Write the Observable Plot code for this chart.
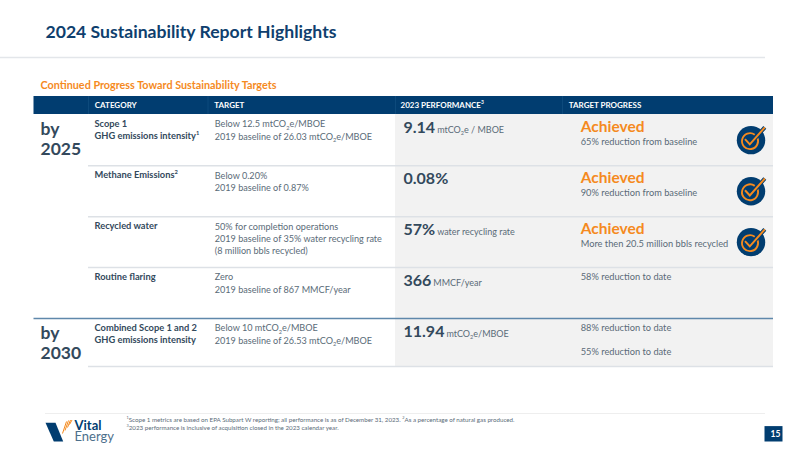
<!DOCTYPE html>
<html>
<head>
<meta charset="utf-8">
<script src="https://cdn.jsdelivr.net/npm/d3@7"></script>
<script src="https://cdn.jsdelivr.net/npm/@observablehq/plot@0.6"></script>
<style>html,body{margin:0;padding:0;background:#fff}svg{display:block}</style>
</head>
<body>
<div id="chart"></div>
<script>
const slideTitle = "2024 Sustainability Report Highlights";
const sectionTitle = "Continued Progress Toward Sustainability Targets";
const headers = ["CATEGORY", "TARGET", "TARGET PROGRESS"];
const performanceHeader = "2023 PERFORMANCE³";
const periods = ["by\n2025", "by\n2030"];
const periodRows = [0, 4];
const rows = [0, 1, 2, 3, 4];
const categories = [
  "Scope 1\nGHG emissions intensity¹",
  "Methane Emissions²",
  "Recycled water",
  "Routine flaring",
  "Combined Scope 1 and 2\nGHG emissions intensity"
];
const targets = [
  "Below 12.5 mtCO₂e/MBOE\n2019 baseline of 26.03 mtCO₂e/MBOE",
  "Below 0.20%\n2019 baseline of 0.87%",
  "50% for completion operations\n2019 baseline of 35% water recycling rate\n(8 million bbls recycled)",
  "Zero\n2019 baseline of 867 MMCF/year",
  "Below 10 mtCO₂e/MBOE\n2019 baseline of 26.53 mtCO₂e/MBOE"
];
const perfValues = ["9.14", "0.08%", "57%", "366", "11.94"];
const perfUnits = ["mtCO₂e / MBOE", "", "water recycling rate", "MMCF/year", "mtCO₂e/MBOE"];
const achievedRows = [0, 1, 2];
const achievedLabel = "Achieved";
const achievedNotes = ["65% reduction from baseline", "90% reduction from baseline", "More then 20.5 million bbls recycled"];
const openRows = [3, 4];
const openNotes = ["58% reduction to date", "88% reduction to date\n\n55% reduction to date"];
const footnote1 = "¹Scope 1 metrics are based on EPA Subpart W reporting; all performance is as of December 31, 2023. ²As a percentage of natural gas produced.";
const footnote2 = "³2023 performance is inclusive of acquisition closed in the 2023 calendar year.";
const logoWords = ["Vital", "Energy"];
const pageNumber = "15";

const NAVY = "#013d70", ORANGE = "#f58a1e", INK = "#33495c", BODY = "#5a6b78", LINE = "#dde1e6";

// named stops of the slide grid (piecewise scale domains)
const xStops = ["page", "table", "margin", "category", "target", "performance", "progress", "ruleEnd", "tableEnd", "pageEnd"];
const xPixels = [0, 33.5, 45, 88, 207.5, 395, 562, 765, 773, 800];
const X = Object.fromEntries(xStops.map((k, i) => [k, i]));
// y stops: -2 title rule, -1 header top, 0..4 row tops, 5 table bottom, 6 footer rule
const yStops = [-2, -1, 0, 1, 2, 3, 4, 5, 6];
const yPixels = [57, 96, 114, 165.3, 216.3, 267, 318, 366, 413];

const check = {draw(c) { c.moveTo(-6, -1); c.lineTo(-1.2, 4.2); c.lineTo(13.8, -12.8); }};
const ringArc = {draw(c) { c.moveTo(8 * Math.cos(-0.55) - 1, 8 * Math.sin(-0.55) + 1); c.arc(-1, 1, 8, -0.55, 5.35); }};
const logoBar = {draw(c) { c.moveTo(-9, -9.4); c.lineTo(1, -9.4); c.lineTo(8.7, 9.3); c.lineTo(-0.7, 9.3); c.closePath(); }};
const logoStreaks = {draw(c) {
  for (const [x0, y0, x1, y1] of [[-4, 7, 0, -5], [-1.5, 4, 2, -6], [1, 1, 4, -6.5], [3, -2, 5.5, -6.5]]) {
    c.moveTo(x0, y0); c.lineTo(x1, y1);
  }
}};
const pageBox = {draw(c) { c.rect(-9, -7.7, 18, 15.4); }};

const frameText = (text, dx, dy, o) => Plot.text([text], {text: d => d, frameAnchor: "top-left", textAnchor: "start", lineAnchor: "top", dx, dy, ...o});
const badge = (o) => Plot.dot(achievedRows, {x: X.tableEnd, y: d => d + 0.5, dx: -22.5, ...o});

const chart = Plot.plot({
  width: 800, height: 450,
  margin: 0,
  style: {fontFamily: "Lato, sans-serif", background: "#fff"},
  x: {type: "linear", domain: xStops.map((k, i) => i), range: xPixels, axis: null},
  y: {type: "linear", domain: yStops, range: yPixels, axis: null},
  marks: [
    // backgrounds and rules
    Plot.rect([0], {x1: X.performance, x2: X.tableEnd, y1: 0, y2: 5, fill: "#f2f2f2"}),
    Plot.rect([0], {x1: X.table, x2: X.tableEnd, y1: -1, y2: 0, fill: NAVY}),
    Plot.ruleX([X.category, X.target, X.performance, X.progress], {x: d => d, y1: -1, y2: 0, stroke: "#0d4a7c", strokeWidth: 1}),
    Plot.ruleY([-2], {y: d => d, x1: X.page, x2: X.ruleEnd, stroke: "#e3e6ea", strokeWidth: 1.5}),
    Plot.ruleY([1, 2, 3, 5], {y: d => d, x1: X.category, x2: X.tableEnd, stroke: LINE, strokeWidth: 1.5}),
    Plot.ruleY([4], {y: d => d, x1: X.table, x2: X.tableEnd, stroke: "#5f88ab", strokeWidth: 1.5}),
    Plot.ruleY([6], {y: d => d, x1: X.margin, x2: X.ruleEnd, stroke: "#eeeeee", strokeWidth: 1}),

    // header band
    Plot.text(headers, {x: [X.category, X.target, X.progress], y: -0.5, text: d => d, textAnchor: "start",
      dx: 6.3, fill: "#fff", fontWeight: 700, fontSize: 8}),
    Plot.text([performanceHeader], {x: X.performance, y: -0.5, text: d => d, textAnchor: "start",
      dx: 5, fill: "#fff", fontWeight: 700, fontSize: 8}),

    // period labels
    Plot.text(periods, {x: X.table, y: periodRows, text: d => d, textAnchor: "start", lineAnchor: "top", dx: 6.5, dy: 6.5,
      fill: INK, fontWeight: 700, fontSize: 17.5, lineHeight: 1.13}),

    // body columns
    Plot.text(categories, {x: X.category, y: rows, text: d => d, textAnchor: "start", lineAnchor: "top", dx: 6, dy: 4,
      fill: INK, fontWeight: 700, fontSize: 9.3, lineHeight: 1.29}),
    Plot.text(targets, {x: X.target, y: rows, text: d => d, textAnchor: "start", lineAnchor: "top", dx: 6.8, dy: 4,
      fill: BODY, fontSize: 9.1, lineHeight: 1.36}),
    Plot.text(perfValues.map((v, i) => perfUnits[i] ? `${v}|${perfUnits[i]}` : v), {x: X.performance, y: rows, text: d => d, textAnchor: "start", lineAnchor: "top",
      dx: 8, dy: 7, fill: INK, fontWeight: 700, fontSize: 16}),
    Plot.text(achievedRows, {x: X.progress, y: d => d, text: () => achievedLabel, textAnchor: "start", lineAnchor: "top",
      dx: 18.2, dy: 6.5, fill: ORANGE, fontWeight: 700, fontSize: 15.5}),
    Plot.text(achievedNotes, {x: X.progress, y: achievedRows, text: d => d, textAnchor: "start", lineAnchor: "top",
      dx: 18.2, dy: 23.8, fill: BODY, fontSize: 9.25}),
    Plot.text(openNotes, {x: X.progress, y: openRows, text: d => d, textAnchor: "start", lineAnchor: "top",
      dx: 18.2, dy: 4, fill: BODY, fontSize: 9.25, lineHeight: 1.3}),

    // achieved badges
    badge({r: 14.2, fill: NAVY}),
    badge({symbol: ringArc, r: 8, fill: "none", stroke: ORANGE, strokeWidth: 1.9}),
    badge({symbol: check, r: 8, fill: "none", stroke: NAVY, strokeWidth: 4}),
    badge({symbol: check, r: 8, fill: "none", stroke: ORANGE, strokeWidth: 2}),

    // slide furniture
    frameText(slideTitle, 45, 25, {fill: "#0f3f6e", fontWeight: 700, fontSize: 17.6}),
    frameText(sectionTitle, 40, 80.5, {fill: ORANGE, fontWeight: 700, fontSize: 10.8}),
    frameText(footnote1, 126, 417, {fill: BODY, fontSize: 6.2}),
    frameText(footnote2, 126, 425, {fill: BODY, fontSize: 6.2}),
    Plot.dot([0], {frameAnchor: "top-left", dx: 54, dy: 431.7, symbol: logoBar, r: 9, fill: NAVY}),
    Plot.dot([0], {frameAnchor: "top-left", dx: 66, dy: 426, symbol: logoStreaks, r: 9, fill: "none", stroke: ORANGE, strokeWidth: 1}),
    frameText(logoWords.join("\n"), 74, 421.5, {fill: NAVY, fontSize: 13, lineHeight: 0.85}),
    Plot.dot([0], {frameAnchor: "top-left", dx: 773, dy: 433.3, symbol: pageBox, r: 8, fill: NAVY}),
    Plot.text([pageNumber], {text: d => d, frameAnchor: "top-left", textAnchor: "start", dx: 770, dy: 433.3, fill: "#fff", fontWeight: 700, fontSize: 8.5, lineAnchor: "middle"})
  ]
});

// Real tspans for sub/superscripts and the small unit run after "|"
const small = {"₂": ["2", 0.25], "¹": ["1", -0.45], "²": ["2", -0.45], "³": ["3", -0.45]};
const NS = "http://www.w3.org/2000/svg";
const UNIT_SIZE = 9;
const span = (text, attrs) => {
  const t = document.createElementNS(NS, "tspan");
  for (const k in attrs) t.setAttribute(k, attrs[k]);
  t.textContent = text;
  return t;
};
const addRuns = (target, str, size) => {
  let pending = 0;
  for (const part of str.split(/([₂¹²³])/)) {
    if (!part) continue;
    if (small[part]) {
      const [ch, shift] = small[part];
      target.appendChild(span(ch, {"font-size": size * 0.62, dy: (shift * size) - pending}));
      pending = shift * size;
    } else if (pending) {
      target.appendChild(span(part, {dy: -pending}));
      pending = 0;
    } else {
      target.appendChild(document.createTextNode(part));
    }
  }
};
const fontSizeOf = (el) => {
  for (let e = el; e && e !== chart; e = e.parentNode) {
    if (e.getAttribute && e.getAttribute("font-size")) return parseFloat(e.getAttribute("font-size"));
  }
  return 10;
};
const walker = document.createTreeWalker(chart, NodeFilter.SHOW_TEXT);
const nodes = [];
while (walker.nextNode()) nodes.push(walker.currentNode);
for (const node of nodes) {
  // the two logo words share one text element, styled line by line
  if (node.nodeValue === logoWords[0]) { node.parentNode.setAttribute("font-weight", 700); continue; }
  if (node.nodeValue === logoWords[1]) { node.parentNode.setAttribute("fill", "#4d708c"); continue; }
  if (!/[₂¹²³|]/.test(node.nodeValue)) continue;
  const parent = node.parentNode;
  const frag = document.createDocumentFragment();
  const [main, unit] = node.nodeValue.split("|");
  addRuns(frag, main, fontSizeOf(parent));
  if (unit !== undefined) {
    const u = span("", {"font-size": UNIT_SIZE, "font-weight": 400, fill: BODY, dx: 2});
    addRuns(u, unit, UNIT_SIZE);
    frag.appendChild(u);
  }
  parent.replaceChild(frag, node);
}
document.getElementById("chart").appendChild(chart);
</script>
</body>
</html>
